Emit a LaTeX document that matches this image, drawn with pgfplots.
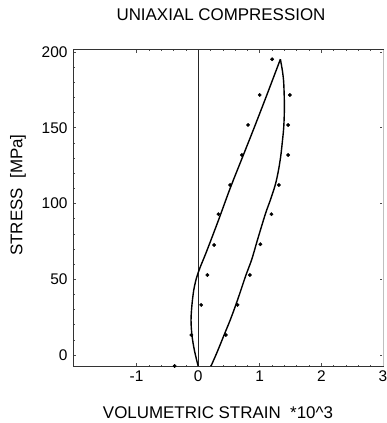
\documentclass[border=0pt]{standalone}
\usepackage{pgfplots}
\pgfplotsset{compat=1.18}
\usepackage{fontspec}
\setmainfont{Liberation Sans}
\begin{document}
\begin{tikzpicture}
\begin{axis}[
  name=ax,
  scale only axis,
  width=310bp, height=316bp,
  xmin=-2.03, xmax=3, ymin=-7.3, ymax=201.3,
  xtick={-1,0,1,2,3}, ytick={0,50,100,150,200},
  minor x tick num=4, minor y tick num=4,
  tick align=inside,
  major tick length=3bp, minor tick length=1.5bp,
  every tick/.style={black!70, line width=0.5bp},
  axis line style={black!80, line width=1bp},
  /pgf/number format/assume math mode=true,
  ticklabel style={font=\fontsize{15.5}{17}\selectfont},
  yticklabel style={xshift=-2bp},
  xticklabel style={yshift=-1bp},
  clip=false,
]
% vertical zero line
\addplot[black!85, line width=0.9bp] coordinates {(0,-7.3) (0,201.3)};
% loading branch
\addplot[black, line width=1.4bp, smooth, tension=0.5] coordinates {
 (0,-7.3) (-0.06,3) (-0.10,13) (-0.115,23) (-0.10,33) (-0.07,43) (-0.025,51)
 (0.03,57.5) (0.12,66.5) (0.21,76) (0.34,90) (0.52,110) (0.71,129.5)
 (0.90,149) (1.10,170) (1.335,195.2)};
% unloading branch
\addplot[black, line width=1.4bp, smooth, tension=0.5] coordinates {
 (1.335,195.2) (1.37,187) (1.39,179) (1.40,164) (1.39,150.7) (1.365,140)
 (1.34,131) (1.30,121) (1.25,112) (1.17,102) (1.09,92.9) (0.96,75.5)
 (0.87,63) (0.77,52) (0.64,36.3) (0.53,24) (0.42,13) (0.31,2) (0.21,-7.3)};
% measured points
\addplot[only marks, mark=*, mark size=1.7bp, black] coordinates {
 (1.20,195.2)
 (1.00,171.6) (1.49,171.6)
 (0.81,151.8) (1.46,151.8)
 (0.71,132) (1.46,132)
 (0.52,112.2) (1.31,112.2)
 (0.33,92.9) (1.19,92.9)
 (0.26,72.6) (1.01,73.1)
 (0.15,52.8) (0.84,52.8)
 (0.05,33) (0.64,33)
 (-0.11,13.2) (0.45,13.2)
 (-0.38,-7.3)};
\end{axis}
\draw[white, line width=1.6bp] (ax.south east) -- (ax.north east);
\draw[black!25, line width=0.8bp] (ax.south east) -- (ax.north east);
\node[font=\fontsize{17}{19}\selectfont] at ([xshift=148bp,yshift=35bp]ax.north west) {UNIAXIAL COMPRESSION};
\node[font=\fontsize{17}{19}\selectfont] at ([xshift=145bp,yshift=-47bp]ax.south west) {VOLUMETRIC STRAIN\ \ *10\textasciicircum 3};
\node[font=\fontsize{17}{19}\selectfont, rotate=90] at ([xshift=-55bp,yshift=-145bp]ax.north west) {STRESS\ \ [MPa]};
\pgfresetboundingbox
\path[use as bounding box] ([xshift=-73bp,yshift=-57bp]ax.south west) rectangle ([xshift=4bp,yshift=50bp]ax.north east);
\end{tikzpicture}
\end{document}
